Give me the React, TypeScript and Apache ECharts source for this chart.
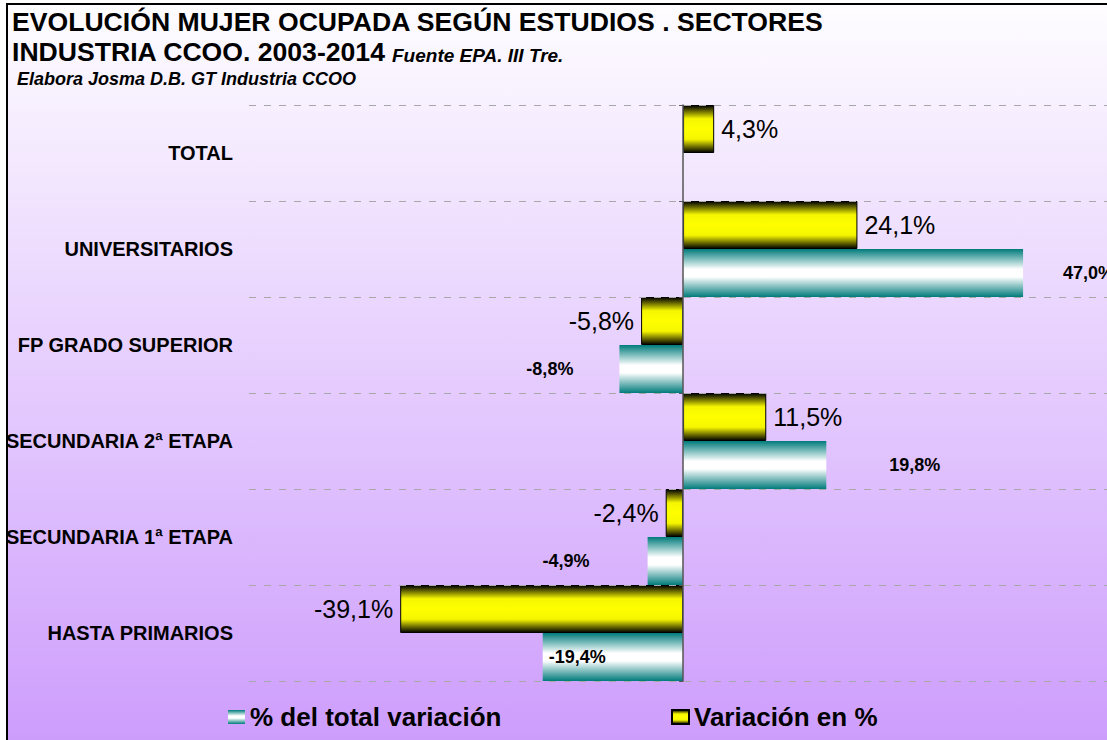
import React, { useEffect, useRef } from "react";
import * as echarts from "echarts";

const categories = [
  "TOTAL",
  "UNIVERSITARIOS",
  "FP GRADO SUPERIOR",
  "SECUNDARIA 2ª ETAPA",
  "SECUNDARIA 1ª ETAPA",
  "HASTA PRIMARIOS",
];
const variacionPct = [4.3, 24.1, -5.8, 11.5, -2.4, -39.1];
const totalVariacionPct: (number | null)[] = [null, 47.0, -8.8, 19.8, -4.9, -19.4];
const seriesNames = ["% del total variación", "Variación en %"];

const titleLine1 = "EVOLUCIÓN MUJER OCUPADA SEGÚN ESTUDIOS . SECTORES";
const titleLine2 = "INDUSTRIA CCOO. 2003-2014";
const sourceText = "Fuente EPA. III Tre.";
const authorText = "Elabora Josma D.B. GT Industria CCOO";

// value-axis range (the plot is cut at the right edge of the picture)
const axisMin = -60;
const axisMax = 58.6;

// label placement styles (not data)
const tealLabelLayout: any[] = [
  null,
  { position: "right", distance: 40 },
  { position: "left", distance: 46 },
  { position: "right", distance: 63 },
  { position: "left", distance: 58 },
  { position: "insideLeft", distance: 6 },
];

const FONT = 'Arial, "Liberation Sans", sans-serif';

const fmt = (v: number) => v.toFixed(1).replace(".", ",") + "%";

export default function App() {
  const ref = useRef<HTMLDivElement>(null);

  useEffect(() => {
    if (!ref.current) return;
    const chart = echarts.init(ref.current, undefined, { renderer: "svg" });

    const yellow = new echarts.graphic.LinearGradient(0, 0, 0, 1, [
      { offset: 0, color: "#000000" },
      { offset: 0.28, color: "#f5f500" },
      { offset: 0.5, color: "#ffff00" },
      { offset: 0.72, color: "#f5f500" },
      { offset: 1, color: "#000000" },
    ]);
    const teal = new echarts.graphic.LinearGradient(0, 0, 0, 1, [
      { offset: 0, color: "#007b7b" },
      { offset: 0.42, color: "#ffffff" },
      { offset: 0.58, color: "#ffffff" },
      { offset: 1, color: "#007b7b" },
    ]);
    const bg = new echarts.graphic.LinearGradient(0, 0, 0, 1, [
      { offset: 0, color: "#fefdff" },
      { offset: 1, color: "#c995fc" },
    ]);

    const legendText = { fontFamily: FONT, fontWeight: "bold", fontSize: 26, color: "#000" };

    const option: any = {
      animation: false,
      backgroundColor: "#ffffff",
      graphic: [
        {
          type: "rect",
          z: -100,
          silent: true,
          shape: { x: 7, y: 4, width: 1200, height: 800 },
          style: { fill: bg, stroke: "#000000", lineWidth: 2 },
        },
        {
          type: "text",
          x: 12,
          y: 22,
          style: {
            text: titleLine1,
            font: `bold 26.6px ${FONT}`,
            fill: "#000",
            verticalAlign: "middle",
          },
        },
        {
          type: "text",
          x: 12,
          y: 52,
          style: {
            text: titleLine2,
            font: `bold 26.6px ${FONT}`,
            fill: "#000",
            verticalAlign: "middle",
          },
        },
        {
          type: "text",
          x: 392,
          y: 55,
          style: {
            text: sourceText,
            font: `italic bold 19px ${FONT}`,
            fill: "#000",
            verticalAlign: "middle",
          },
        },
        {
          type: "text",
          x: 17,
          y: 79,
          style: {
            text: authorText,
            font: `italic bold 18px ${FONT}`,
            fill: "#000",
            verticalAlign: "middle",
          },
        },
      ],
      legend: [
        {
          data: [seriesNames[0]],
          left: 228,
          top: 704,
          padding: 0,
          icon: "rect",
          itemWidth: 17,
          itemHeight: 14,
          textStyle: legendText,
        },
        {
          data: [seriesNames[1]],
          left: 671,
          top: 704,
          padding: 0,
          icon: "rect",
          itemWidth: 17,
          itemHeight: 14,
          textStyle: legendText,
        },
      ],
      grid: { left: 249, top: 105, right: 0, height: 576, containLabel: false },
      xAxis: {
        type: "value",
        min: axisMin,
        max: axisMax,
        axisLabel: { show: false },
        axisLine: { show: false },
        axisTick: { show: false },
        splitLine: { show: false },
      },
      yAxis: [
        {
          type: "category",
          data: categories,
          inverse: true,
          axisLine: { show: true, onZero: true, lineStyle: { color: "#555555", width: 1.5 } },
          axisTick: { show: true, length: 4, lineStyle: { color: "#555555" } },
          axisLabel: { show: false },
          splitLine: {
            show: true,
            lineStyle: { color: "#a8a8a8", type: [7, 8], width: 1.2 },
          },
          z: 3,
        },
        {
          type: "category",
          data: categories,
          inverse: true,
          position: "left",
          axisLine: { show: false, onZero: false },
          axisTick: { show: false },
          splitLine: { show: false },
          axisLabel: {
            margin: 16,
            fontFamily: FONT,
            fontWeight: "bold",
            fontSize: 20,
            color: "#000",
          },
        },
      ],
      series: [
        {
          name: seriesNames[1],
          type: "bar",
          yAxisIndex: 0,
          barGap: "0%",
          barCategoryGap: "0%",
          itemStyle: { color: yellow, borderColor: "#000000", borderWidth: 1 },
          label: {
            show: true,
            fontFamily: FONT,
            fontSize: 25,
            color: "#000",
            distance: 7,
            formatter: (p: any) => fmt(p.value),
          },
          data: variacionPct.map((v) => ({
            value: v,
            label: { position: v >= 0 ? "right" : "left" },
          })),
        },
        {
          name: seriesNames[0],
          type: "bar",
          yAxisIndex: 0,
          barGap: "0%",
          barCategoryGap: "0%",
          itemStyle: { color: teal },
          label: {
            show: true,
            fontFamily: FONT,
            fontWeight: "bold",
            fontSize: 18,
            color: "#000",
            formatter: (p: any) => (p.value == null ? "" : fmt(p.value)),
          },
          data: totalVariacionPct.map((v, i) =>
            v == null
              ? { value: null }
              : { value: v, label: tealLabelLayout[i] || {} }
          ),
        },
      ],
    };

    chart.setOption(option);
    return () => chart.dispose();
  }, []);

  return (
    <div
      ref={ref}
      style={{ position: "absolute", left: 0, top: 0, width: 1107, height: 740 }}
    />
  );
}
